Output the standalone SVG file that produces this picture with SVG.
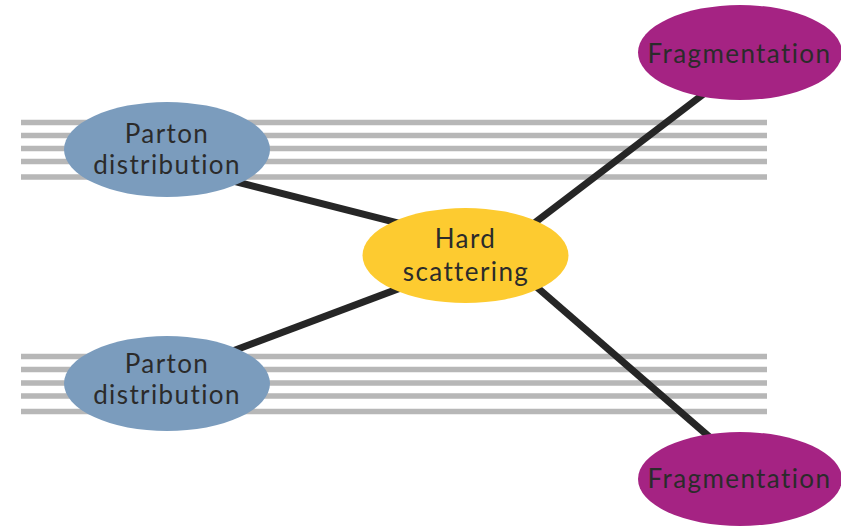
<svg xmlns="http://www.w3.org/2000/svg" width="841" height="526" viewBox="0 0 841 526">
<style>
.stripe{stroke:#b7b7b7;stroke-width:5.5;fill:none}
.conn{stroke:#262626;stroke-width:7;fill:none}
.lbl{font-family:Lato,"Open Sans","Liberation Sans",sans-serif;font-size:26px;letter-spacing:1.4px;fill:#2b2b2b;text-anchor:middle}
.pd{fill:#7b9cbd}
.hs{fill:#fdcb30}
.fr{fill:#a52383}
</style>
<rect width="841" height="526" fill="#ffffff"/>
<g id="stripes">
<path class="stripe" d="M21 122.5H767M21 135.5H767M21 148.5H767M21 161.5H767M21 177H767"/>
<path class="stripe" d="M21 356.5H767M21 369.5H767M21 383H767M21 396H767M21 411.5H767"/>
</g>
<g id="connectors">
<line class="conn" x1="200" y1="172.5" x2="430" y2="231.2"/>
<line class="conn" x1="200" y1="363.3" x2="430" y2="276.9"/>
<line class="conn" x1="500" y1="249.2" x2="740" y2="66.2"/>
<line class="conn" x1="500" y1="255.3" x2="740" y2="463.5"/>
</g>
<g id="parton-top">
<ellipse class="pd" cx="167" cy="149.5" rx="103" ry="47.5"/>
<text class="lbl" x="167" y="142.5">Parton</text>
<text class="lbl" x="167" y="173.5">distribution</text>
</g>
<g id="parton-bottom">
<ellipse class="pd" cx="167" cy="383.5" rx="103" ry="47.5"/>
<text class="lbl" x="167" y="373.3">Parton</text>
<text class="lbl" x="167" y="404">distribution</text>
</g>
<g id="hard-scattering">
<ellipse class="hs" cx="465.5" cy="255.5" rx="103" ry="47.5"/>
<text class="lbl" x="465.5" y="248.3">Hard</text>
<text class="lbl" x="466" y="280.7">scattering</text>
</g>
<g id="fragmentation-top">
<ellipse class="fr" cx="740" cy="52.5" rx="102" ry="47.5"/>
<text class="lbl" x="739.5" y="62.7">Fragmentation</text>
</g>
<g id="fragmentation-bottom">
<ellipse class="fr" cx="740" cy="479" rx="102" ry="47"/>
<text class="lbl" x="739.5" y="488.3">Fragmentation</text>
</g>
</svg>
